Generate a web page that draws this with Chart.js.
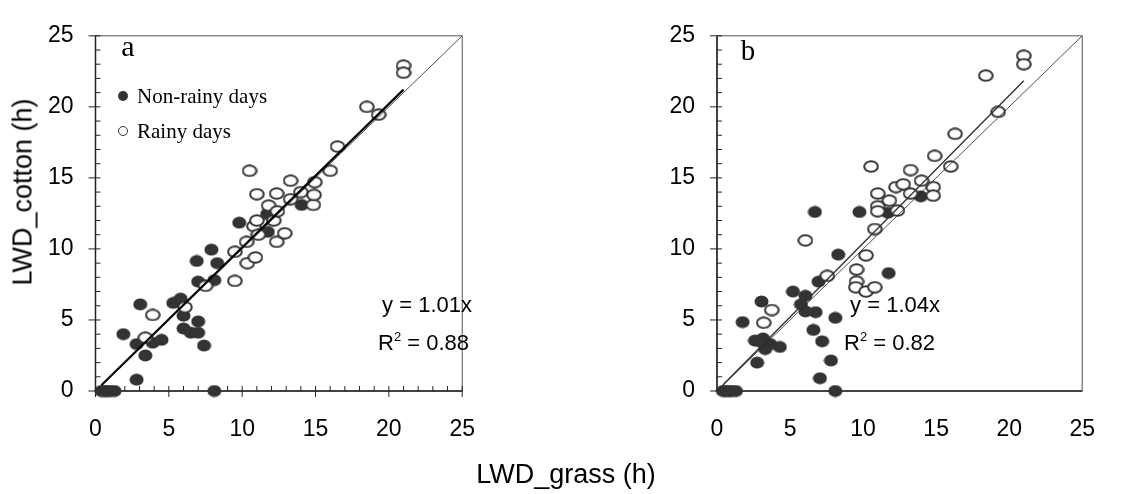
<!DOCTYPE html>
<html>
<head>
<meta charset="utf-8">
<script src="https://cdn.jsdelivr.net/npm/chart.js@4.4.1/dist/chart.umd.min.js"></script>
<style>
    body { margin: 0; width: 1122px; height: 494px; position: relative; background: #fff; overflow: hidden; font-family: "Liberation Sans", Arial, sans-serif; }
    .painel { position: absolute; top: 0; width: 500px; height: 494px; }
    .texto { position: absolute; white-space: nowrap; line-height: 1; color: #000; }
    .serif { font-family: "Liberation Serif", "Times New Roman", serif; }
    .marca { position: absolute; width: 10px; height: 10px; border-radius: 50%; box-sizing: border-box; transform: translate(-50%, -50%); }
</style>
</head>
<body>
<div class="painel" style="left:0"><canvas id="graficoA"></canvas></div>
<div class="painel" style="left:620px"><canvas id="graficoB"></canvas></div>

<!-- Títulos dos eixos -->
<div class="texto" style="left:23px;top:192px;font-size:27px;transform:translate(-50%,-50%) rotate(-90deg)">LWD_cotton (h)</div>
<div class="texto" style="left:566px;top:474px;font-size:27px;transform:translate(-50%,-50%)">LWD_grass (h)</div>

<!-- Painel a -->
<div class="texto serif" style="left:128px;top:46px;font-size:30px;transform:translate(-50%,-50%)">a</div>
<div class="marca" style="left:123px;top:96px;background:#333"></div>
<div class="texto serif" style="left:137px;top:96px;font-size:21px;transform:translateY(-50%)">Non-rainy days</div>
<div class="marca" style="left:123px;top:131px;border:1.5px solid #333;background:#fff"></div>
<div class="texto serif" style="left:137px;top:131px;font-size:21px;transform:translateY(-50%)">Rainy days</div>
<div class="texto" style="right:650px;top:305px;font-size:22px;transform:translateY(-50%)">y = 1.01x</div>
<div class="texto" style="right:653px;top:342px;font-size:22px;transform:translateY(-50%)">R<sup style="font-size:13px;vertical-align:9px">2</sup> = 0.88</div>

<!-- Painel b -->
<div class="texto serif" style="left:748px;top:50px;font-size:29px;transform:translate(-50%,-50%)">b</div>
<div class="texto" style="right:182px;top:305px;font-size:22px;transform:translateY(-50%)">y = 1.04x</div>
<div class="texto" style="right:187px;top:342px;font-size:22px;transform:translateY(-50%)">R<sup style="font-size:13px;vertical-align:9px">2</sup> = 0.82</div>

<script>
// Valores (horas de molhamento foliar)
const ticksEixo = [0, 5, 10, 15, 20, 25];

// Painel a - dias sem chuva
const xSecoA = [0.4, 0.6, 0.8, 1.0, 1.3, 8.1, 2.8, 1.9, 3.05, 2.8, 3.4, 3.9, 4.5, 5.3, 5.8, 6.0, 6.0, 6.5, 7.0, 7.0, 7.4, 6.9, 7.0, 7.9, 8.3, 8.1, 9.8, 11.7, 11.75, 14.05];
const ySecoA = [0, 0, 0, 0, 0, 0, 0.8, 4.0, 6.1, 3.3, 2.5, 3.4, 3.6, 6.2, 6.5, 5.3, 4.4, 4.1, 4.1, 4.9, 3.2, 9.15, 7.7, 9.95, 9.0, 7.8, 11.85, 12.45, 11.2, 13.1];
// Painel a - dias com chuva
const xChuvaA = [3.4, 3.9, 6.1, 7.5, 9.5, 9.5, 10.35, 10.9, 10.3, 10.5, 11.0, 10.8, 11.0, 11.1, 11.8, 12.15, 12.35, 12.4, 12.35, 12.9, 13.3, 13.3, 14.0, 14.85, 14.9, 14.95, 16.0, 16.5, 18.5, 19.3, 21.0, 21.0];
const yChuvaA = [3.75, 5.35, 5.9, 7.4, 7.75, 9.8, 9.0, 9.4, 10.5, 15.5, 13.85, 11.6, 12.0, 11.0, 13.05, 12.0, 13.9, 12.65, 10.5, 11.1, 13.5, 14.8, 14.0, 13.1, 13.8, 14.7, 15.5, 17.2, 20.0, 19.45, 22.9, 22.4];

// Painel b - dias sem chuva
const xSecoB = [0.4, 0.6, 0.8, 1.0, 1.3, 8.1, 7.05, 7.8, 7.2, 6.6, 8.1, 6.75, 6.05, 5.75, 6.05, 5.2, 6.95, 8.3, 6.7, 9.75, 11.75, 11.7, 13.95, 1.75, 3.05, 2.75, 2.6, 3.3, 3.15, 3.65, 4.3, 2.9];
const ySecoB = [0, 0, 0, 0, 0, 0, 0.9, 2.15, 3.5, 4.3, 5.15, 5.55, 5.6, 6.1, 6.7, 7.0, 7.7, 9.6, 12.6, 12.6, 8.3, 12.55, 13.7, 4.85, 6.3, 2.0, 3.55, 2.95, 3.7, 3.3, 3.1, 3.5];
// Painel b - dias com chuva
const xChuvaB = [3.2, 3.75, 6.05, 7.55, 9.55, 9.55, 9.5, 10.2, 10.8, 10.2, 10.8, 10.55, 11.0, 11.0, 11.0, 11.8, 12.25, 12.35, 12.75, 13.25, 13.25, 14.0, 14.8, 14.8, 14.9, 16.0, 16.3, 18.4, 19.25, 21.0, 21.0];
const yChuvaB = [4.8, 5.7, 10.6, 8.1, 8.55, 7.7, 7.3, 7.0, 7.3, 9.55, 11.4, 15.8, 13.9, 13.0, 12.65, 13.4, 14.35, 12.7, 14.55, 15.55, 13.9, 14.8, 14.35, 13.75, 16.55, 15.8, 18.1, 22.2, 19.65, 23.6, 23.0];

// Regressões (y = b*x) e faixa de x onde a reta é desenhada
const inclinacoes = [1.01, 1.04];
const faixaReta = [0.4, 21];
const faixaUmPraUm = [0, 25];

const pontos = (xs, ys) => xs.map((x, i) => ({ x: x, y: ys[i] }));

// Marcadores elípticos (levemente achatados como no original)
function criarElipse(w, h, preenchido) {
    const c = document.createElement('canvas');
    c.width = w; c.height = h;
    const g = c.getContext('2d');
    g.beginPath();
    if (preenchido) {
        g.ellipse(w / 2, h / 2, w / 2 - 0.5, h / 2 - 0.5, 0, 0, Math.PI * 2);
        g.fillStyle = '#333';
        g.fill();
    } else {
        g.ellipse(w / 2, h / 2, w / 2 - 1.2, h / 2 - 1.2, 0, 0, Math.PI * 2);
        g.fillStyle = '#fff';
        g.fill();
        g.lineWidth = 2;
        g.strokeStyle = '#333';
        g.stroke();
    }
    return c;
}
const marcaCheia = criarElipse(15, 13, true);
const marcaVazia = criarElipse(16, 13, false);

// Moldura e marcas dos eixos (maiores cruzam o eixo, menores ficam por dentro)
const moldura = {
    id: 'moldura',
    beforeDatasetsDraw(chart, args, opts) {
        const { ctx, chartArea: a, scales: { x, y } } = chart;
        ctx.save();
        ctx.strokeStyle = '#555';
        ctx.lineWidth = 1;
        ctx.strokeRect(a.left, a.top, a.right - a.left, a.bottom - a.top);
        ctx.strokeStyle = '#222';
        ctx.lineWidth = 1.5;
        ctx.beginPath();
        ctx.moveTo(a.left, a.top);
        ctx.lineTo(a.left, a.bottom);
        ctx.lineTo(a.right, a.bottom);
        ctx.stroke();
        ctx.lineWidth = 1;
        ctx.beginPath();
        for (let v = 0; v <= 25; v++) {
            const maior = v % 5 === 0;
            const py = y.getPixelForValue(v);
            ctx.moveTo(a.left - (maior ? 7 : 0), py);
            ctx.lineTo(a.left + 5, py);
            if (opts.marcasX) {
                const px = x.getPixelForValue(v);
                ctx.moveTo(px, a.bottom + (maior ? 6 : 0));
                ctx.lineTo(px, a.bottom - 5);
            }
        }
        ctx.stroke();
        ctx.restore();
    }
};

function criarPainel(canvasId, seco, chuva, inclinacao, larguraEixoY, marcasX, reta) {
    const eixo = (pos) => ({
        type: 'linear',
        position: pos,
        min: 0,
        max: 25,
        afterBuildTicks: s => { s.ticks = ticksEixo.map(v => ({ value: v })); },
        grid: { display: false, drawTicks: false },
        border: { display: false },
        ticks: {
            color: '#000',
            font: { family: '"Liberation Sans", Arial', size: 23 },
            padding: pos === 'left' ? 22 : 25,
            maxRotation: 0
        },
        afterFit: s => {
            if (pos === 'left') s.width = larguraEixoY;
            else s.height = 103;
        }
    });

    new Chart(document.getElementById(canvasId), {
        type: 'scatter',
        data: {
            datasets: [
                {
                    label: '1:1',
                    data: faixaUmPraUm.map(v => ({ x: v, y: v })),
                    showLine: true,
                    pointRadius: 0,
                    borderColor: '#222',
                    borderWidth: 0.8,
                    order: 0
                },
                {
                    label: 'Regressão',
                    data: faixaReta.map(v => ({ x: v, y: inclinacao * v })),
                    showLine: true,
                    pointRadius: 0,
                    borderColor: reta.cor,
                    borderWidth: reta.largura,
                    order: 0
                },
                {
                    label: 'Rainy days',
                    data: chuva,
                    pointStyle: marcaVazia,
                    clip: false,
                    order: 1
                },
                {
                    label: 'Non-rainy days',
                    data: seco,
                    pointStyle: marcaCheia,
                    clip: false,
                    order: 2
                }
            ]
        },
        options: {
            responsive: true,
            maintainAspectRatio: false,
            animation: false,
            layout: { padding: { top: 20, right: 12.5, left: 0, bottom: 0 } },
            plugins: {
                legend: { display: false },
                tooltip: { enabled: false },
                moldura: { marcasX: marcasX }
            },
            scales: { x: eixo('bottom'), y: eixo('left') }
        },
        plugins: [moldura]
    });
}

document.addEventListener('DOMContentLoaded', () => {
    if (typeof Chart === 'undefined') {
        console.error('Chart.js não foi carregado.');
        return;
    }
    criarPainel('graficoA', pontos(xSecoA, ySecoA), pontos(xChuvaA, yChuvaA), inclinacoes[0], 95.5, true, { cor: '#000', largura: 2.2 });
    criarPainel('graficoB', pontos(xSecoB, ySecoB), pontos(xChuvaB, yChuvaB), inclinacoes[1], 97, false, { cor: '#333', largura: 1.4 });
});
</script>
</body>
</html>
